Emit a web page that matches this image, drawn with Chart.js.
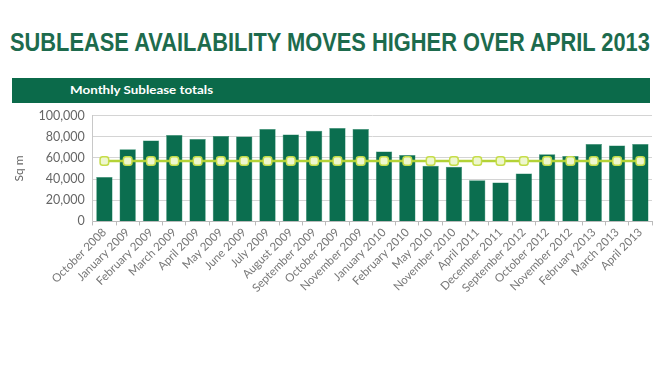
<!DOCTYPE html>
<html>
<head>
<meta charset="utf-8">
<script src="https://cdn.jsdelivr.net/npm/chart.js@4"></script>
<style>
  body { margin: 0; background: #fff; width: 662px; height: 373px; overflow: hidden; position: relative; font-family: Lato, "Noto Sans", sans-serif; }
  #title { position: absolute; left: 10px; top: 27px; font-family: "Liberation Sans", Arial, sans-serif; font-weight: bold; font-size: 26px; line-height: 30px; color: #1d6b4d; white-space: nowrap; transform-origin: 0 0; }
  #banner { position: absolute; left: 12px; top: 78px; width: 638px; height: 25px; background: #0b6a4a; }
  #banner span { position: absolute; left: 58px; top: 5px; color: #fff; font-size: 12px; line-height: 14px; font-weight: bold; white-space: nowrap; transform-origin: 0 0; }
  #wrap { position: absolute; left: 0; top: 100px; width: 662px; height: 195px; }
</style>
</head>
<body>
<div id="title">SUBLEASE AVAILABILITY MOVES HIGHER OVER APRIL 2013</div>
<div id="banner"><span id="sub">Monthly Sublease totals</span></div>
<div id="wrap"><canvas id="chart"></canvas></div>
<script>
// Months shown on the x axis
let months = ['October 2008', 'January 2009', 'February 2009', 'March 2009', 'April 2009', 'May 2009',
    'June 2009', 'July 2009', 'August 2009', 'September 2009', 'October 2009', 'November 2009',
    'January 2010', 'February 2010', 'May 2010', 'November 2010', 'April 2011', 'December 2011',
    'September 2012', 'October 2012', 'November 2012', 'February 2013', 'March 2013', 'April 2013'];

// Monthly sublease totals (sq m)
let totals = [42000, 68200, 76400, 81600, 77700, 80600, 80200, 87300, 82100, 85700, 88300, 87300,
    65900, 62700, 52500, 51600, 38900, 36700, 45300, 63400, 61800, 73000, 71600, 73000];

// Average line
let average = [57000, 57000, 57000, 57000, 57000, 57000, 57000, 57000, 57000, 57000, 57000, 57000,
    57000, 57000, 57000, 57000, 57000, 57000, 57000, 57000, 57000, 57000, 57000, 57000];

let yTicks = [0, 20000, 40000, 60000, 80000, 100000];

// Squeeze the heading texts to the width they have in the picture
function fitWidth(id, w) {
    let el = document.getElementById(id);
    el.style.transform = 'scaleX(' + (w / el.scrollWidth) + ')';
}
fitWidth('title', 640);
fitWidth('sub', 143);

let ctx = document.getElementById('chart').getContext('2d');
new Chart(ctx, {
    type: 'bar',
    data: {
        labels: months,
        datasets: [{
            type: 'line',
            label: 'Average',
            data: average,
            borderColor: '#b3d236',
            borderWidth: 2.5,
            pointStyle: 'rectRounded',
            pointRadius: 5,
            pointBackgroundColor: '#eef7cf',
            pointBorderColor: '#c6dd4a',
            pointBorderWidth: 1.5,
            order: 0
        }, {
            label: 'Monthly Sublease totals',
            data: totals,
            backgroundColor: '#0b6e4f',
            borderColor: '#2a8a68',
            borderWidth: 0.5,
            categoryPercentage: 1,
            barPercentage: 0.7,
            order: 1
        }]
    },
    options: {
        responsive: true,
        maintainAspectRatio: false,
        animation: false,
        layout: { padding: { left: 8, right: 10, top: 0, bottom: 0 } },
        plugins: {
            legend: { display: false },
            tooltip: { enabled: false }
        },
        scales: {
            x: {
                offset: true,
                grid: { drawOnChartArea: false, drawTicks: true, tickLength: 4, color: '#bbb' },
                border: { color: '#bbb' },
                ticks: {
                    minRotation: 45, maxRotation: 45, autoSkip: false,
                    color: '#777', font: { family: 'Lato', size: 11.5 }, padding: 0
                }
            },
            y: {
                min: 0, max: 100000,
                afterBuildTicks: function (axis) {
                    axis.ticks = yTicks.map(function (v) { return { value: v }; });
                },
                grid: { color: '#d4d4d4', drawTicks: false },
                border: { color: '#c8c8c8' },
                title: { display: true, text: 'Sq m', color: '#666', font: { family: 'Lato', size: 12 }, padding: 4 },
                ticks: {
                    color: '#666', font: { family: 'Lato', size: 12.5 }, padding: 8,
                    callback: function (v) { return v.toLocaleString('en-US'); }
                }
            }
        }
    }
});
</script>
</body>
</html>
